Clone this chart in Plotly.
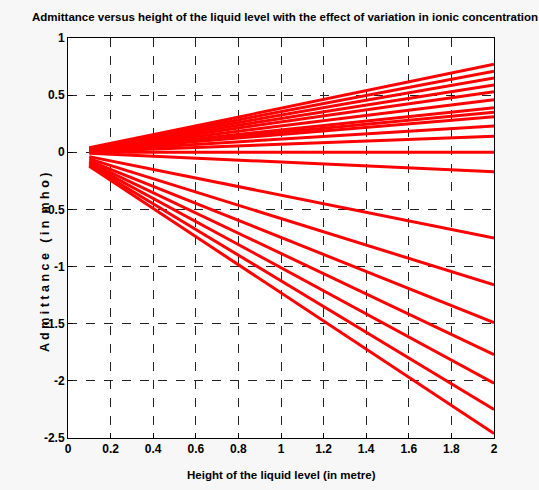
import plotly.graph_objects as go

# Heights (m) at which each series starts and ends
height = [0.1, 2.0]

# Admittance (mho) at the first and last height, one pair per ionic concentration
admittance_start = [0.039, 0.036, 0.033, 0.030, 0.027, 0.023, 0.020, 0.018, 0.016, 0.012,
                    0.007, 0.000, -0.009, -0.038, -0.058, -0.075, -0.089, -0.101, -0.113, -0.123]
admittance_end = [0.77, 0.71, 0.65, 0.59, 0.53, 0.46, 0.39, 0.35, 0.31, 0.23,
                  0.14, 0.00, -0.17, -0.75, -1.16, -1.49, -1.77, -2.02, -2.25, -2.46]

x_ticks = [0, 0.2, 0.4, 0.6, 0.8, 1, 1.2, 1.4, 1.6, 1.8, 2]
x_tick_labels = ["0", "0.2", "0.4", "0.6", "0.8", "1", "1.2", "1.4", "1.6", "1.8", "2"]
y_ticks = [1, 0.5, 0, -0.5, -1, -1.5, -2, -2.5]
y_tick_labels = ["1", "0.5", "0", "-0.5", "-1", "-1.5", "-2", "-2.5"]

FONT = "Liberation Sans, Arial, sans-serif"

fig = go.Figure()
for s, e in zip(admittance_start, admittance_end):
    fig.add_trace(go.Scatter(
        x=height, y=[s, e], mode="lines",
        line=dict(color="#ff0000", width=3),
        showlegend=False, hoverinfo="skip",
    ))

axis_common = dict(
    showline=True, linecolor="black", linewidth=1, mirror=True,
    ticks="inside", ticklen=5, tickcolor="black",
    showgrid=True, gridcolor="#222222", griddash="dash", gridwidth=1,
    zeroline=False, automargin=False,
    tickfont=dict(family=FONT, size=12, color="black", weight="bold"),
)

fig.update_xaxes(range=[0, 2], tickvals=x_ticks, ticktext=x_tick_labels, **axis_common)
fig.update_yaxes(range=[-2.5, 1], tickvals=y_ticks, ticktext=y_tick_labels, **axis_common)

fig.update_layout(
    width=539, height=490,
    margin=dict(l=68, r=45, t=38, b=52),
    paper_bgcolor="#f7f7f7", plot_bgcolor="white",
    font=dict(family=FONT, color="black"),
    annotations=[
        dict(text="<b>Admittance versus height of the liquid level with the effect of variation in ionic concentration</b>",
             x=0.51, y=1.0 + 21 / 400, xref="paper", yref="paper", showarrow=False,
             xanchor="center", yanchor="middle",
             font=dict(family=FONT, size=11.5, color="black")),
        dict(text="<b>Height of the liquid level (in metre)</b>",
             x=0.5, xref="paper", y=-0.0925, yref="paper", showarrow=False,
             font=dict(family=FONT, size=11.5, color="black"), yanchor="middle"),
        dict(text="<b>A d m i t t a n c e   ( i n  m h o )</b>",
             x=-0.054, xref="paper", y=0.44, yref="paper", showarrow=False, textangle=-90,
             font=dict(family=FONT, size=12.5, color="black"), xanchor="center", yanchor="middle"),
    ],
)

fig.write_html("out.html", config={"displayModeBar": False},
               post_script="document.body.style.margin='0';document.body.style.background='#f7f7f7';")
